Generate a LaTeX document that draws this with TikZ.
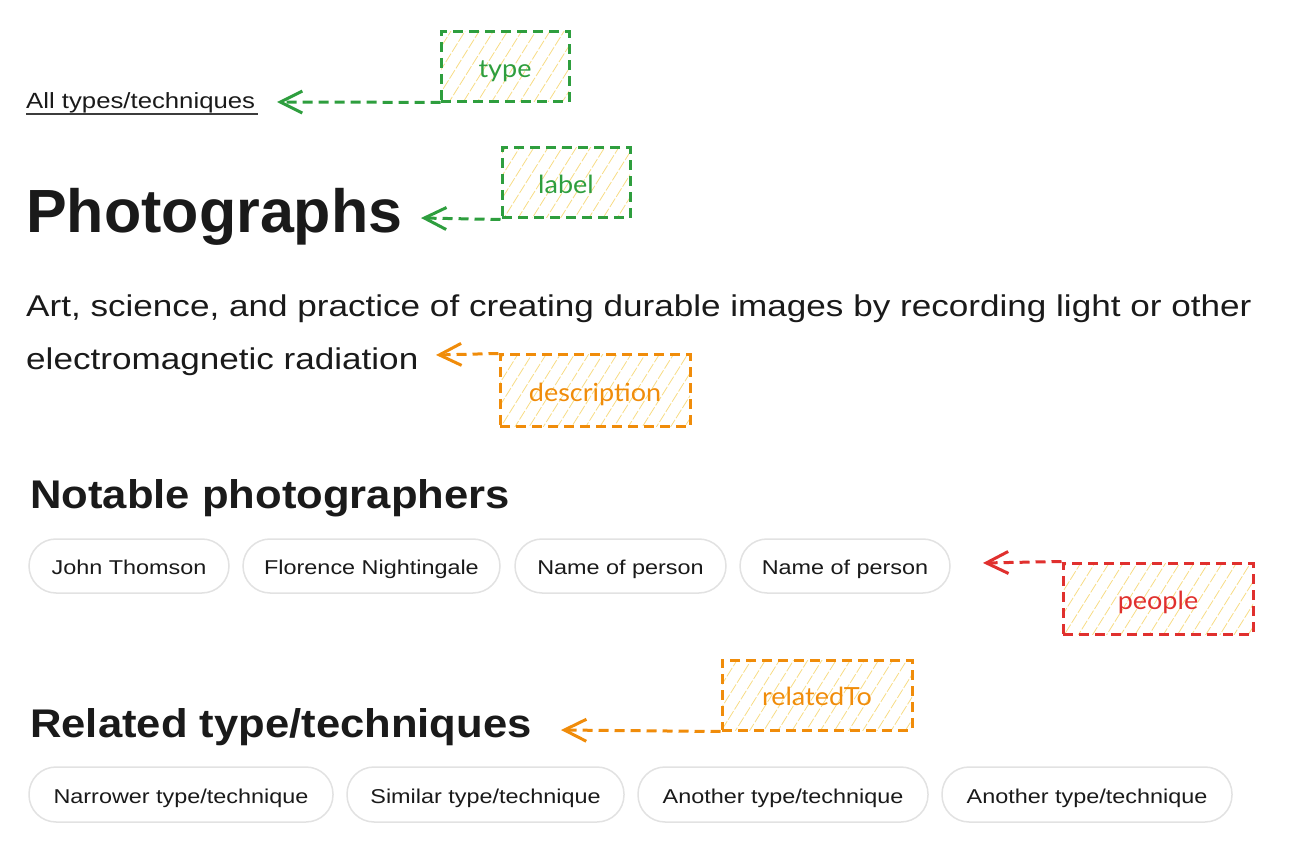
\documentclass[tikz,border=0pt]{standalone}
\usepackage{fontspec}
\setmainfont{Liberation Sans}[FakeStretch=1.17]
\newfontfamily\headfont{Liberation Sans}[FakeStretch=1.09]
\newfontfamily\titlefont{Liberation Sans}
\newfontfamily\tagfont{Lato}[FakeStretch=1.08]
\usetikzlibrary{arrows.meta,patterns.meta}
\definecolor{tgreen}{HTML}{2E9E3E}
\definecolor{torange}{HTML}{F08C0A}
\definecolor{tred}{HTML}{E0302E}
\definecolor{hatch}{HTML}{F7DC84}
\definecolor{ink}{HTML}{1A1A1A}
\definecolor{pillline}{HTML}{E2E2E2}
\tikzset{
  x=1pt,y=-1pt,
  tagbox/.style={draw=#1, text=#1, line width=3pt, dash pattern=on 10pt off 6pt,
    pattern={Lines[angle=58,distance=12pt,line width=0.8pt]}, pattern color=hatch,
    font=\tagfont\fontsize{25}{30}\selectfont, inner sep=0pt, text height=21pt, text depth=0pt},
  arr/.style={draw=#1, line width=3pt, dash pattern=on 10pt off 6pt,
    -{Straight Barb[length=22pt,width=22pt,line width=3pt]}},
  pill/.style={draw=pillline, line width=1.5pt, rounded corners=27pt, fill=white,
    font=\fontsize{20}{24}\selectfont, text=ink, inner sep=0pt, text height=17pt, text depth=0pt},
  txt/.style={anchor=base west, inner sep=0pt, text=ink},
}
\begin{document}
\begin{tikzpicture}
\useasboundingbox (0,0) rectangle (1299,866);
% texts
\node[txt, font=\fontsize{22}{26}\selectfont] (alltypes) at (26,109) {All types/techniques};
\draw[ink!85, line width=1.4pt] (26,114) -- (258,114);
\node[txt, font=\titlefont\bfseries\fontsize{61}{70}\selectfont] (photo) at (26,233) {Photographs};
\node[txt, font=\fontsize{30}{36}\selectfont] (desc1) at (26,317) {Art, science, and practice of creating durable images by recording light or other};
\node[txt, font=\fontsize{30}{36}\selectfont] (desc2) at (26,370) {electromagnetic radiation};
\node[txt, font=\headfont\bfseries\fontsize{40}{48}\selectfont] (notable) at (30,508) {Notable photographers};
\node[txt, font=\headfont\bfseries\fontsize{40}{48}\selectfont] (related) at (30,737) {Related type/techniques};
% pills row 1
\node[pill, minimum width=200pt, minimum height=54pt] (p1) at (129,566) {John Thomson};
\node[pill, minimum width=257pt, minimum height=54pt] (p2) at (371.5,566) {Florence Nightingale};
\node[pill, minimum width=211pt, minimum height=54pt] (p3) at (620.5,566) {Name of person};
\node[pill, minimum width=210pt, minimum height=54pt] (p4) at (845,566) {Name of person};
% pills row 2
\node[pill, minimum width=304pt, minimum height=55pt] (r1) at (181,794.5) {Narrower type/technique};
\node[pill, minimum width=277pt, minimum height=55pt] (r2) at (485.5,794.5) {Similar type/technique};
\node[pill, minimum width=290pt, minimum height=55pt] (r3) at (783,794.5) {Another type/technique};
\node[pill, minimum width=290pt, minimum height=55pt] (r4) at (1087,794.5) {Another type/technique};
% tag boxes
\node[tagbox=tgreen, minimum width=128pt, minimum height=70pt] (type) at (505,67) {type};
\node[tagbox=tgreen, minimum width=128pt, minimum height=70pt] (label) at (566,183) {label};
\node[tagbox=torange, minimum width=190pt, minimum height=72pt] (description) at (595,391) {description};
\node[tagbox=tred, minimum width=190pt, minimum height=71pt] (people) at (1158,598.5) {people};
\node[tagbox=torange, minimum width=190pt, minimum height=70pt] (relatedTo) at (817,695) {relatedTo};
% arrow targets
\coordinate (typeT) at (277,102);
\coordinate (labelT) at (421,218);
\coordinate (descT) at (436,355);
\coordinate (peopleT) at (983,563);
\coordinate (relT) at (561,730);
\draw[arr=tgreen] (type.south west) -- (typeT);
\draw[arr=tgreen] (label.south west) -- (labelT);
\draw[arr=torange] (description.north west) -- (descT);
\draw[arr=tred] (people.north west) -- (peopleT);
\draw[arr=torange] (relatedTo.south west) -- (relT);
\end{tikzpicture}
\end{document}
